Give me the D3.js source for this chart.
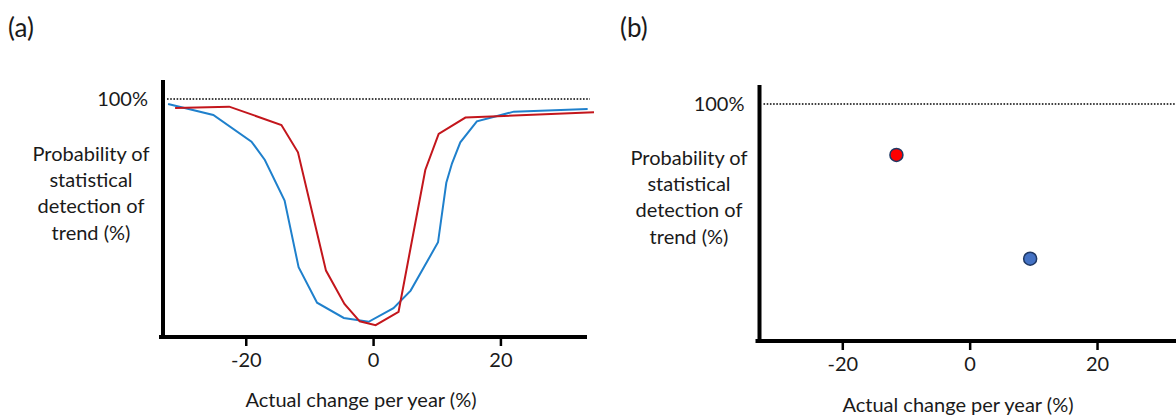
<!DOCTYPE html>
<html lang="en">
<head>
<meta charset="UTF-8">
<title>Probability of statistical detection of trend</title>
<script src="https://cdn.jsdelivr.net/npm/d3@7"></script>
<style>
  body { margin: 0; background: #ffffff; }
  svg { display: block; }
  text { font-family: Lato, "Open Sans", sans-serif; fill: #1a1a1a; }
</style>
</head>
<body>
<svg id="chart" width="1176" height="415"></svg>
<script>
// panel (a): detection probability curves
var blueX = [-32.2, -25.1, -19.1, -17.0, -13.9, -11.7, -8.8, -4.6, -0.7, 3.2, 5.9, 10.2, 11.5, 12.4, 13.7, 16.3, 22.1, 33.7];
var blueY = [97.9, 93.3, 82.1, 74.4, 57.3, 29.3, 14.4, 8.0, 6.4, 12.1, 19.5, 39.8, 64.8, 73.0, 81.8, 90.6, 94.7, 95.8];
var redX = [-31.1, -22.6, -14.4, -11.8, -7.4, -4.5, -2.1, 0.4, 4.0, 8.2, 10.3, 14.5, 34.7];
var redY = [96.2, 96.8, 89.1, 77.6, 27.9, 13.9, 6.6, 5.0, 10.6, 70.2, 85.3, 92.2, 94.4];

// panel (b): single points
var pointX = [-11.5, 9.5];
var pointY = [78.5, 34.7];
var pointFill = ["#ff0000", "#4472c4"];

var xTicks = [-20, 0, 20];
var topLabel = "100%";
var yTitle = ["Probability of", "statistical", "detection of", "trend (%)"];
var xTitle = "Actual change per year (%)";

var svg = d3.select("#chart");
var fs = 20;

function panel(opt) {
  var g = svg.append("g");
  var x = d3.scaleLinear().domain(opt.xDomain).range(opt.xRange);
  var y = d3.scaleLinear().domain([0, 108]).range(opt.yRange);

  // dotted 100% line
  g.append("line")
    .attr("x1", x.range()[0] + 4).attr("x2", opt.dotEnd)
    .attr("y1", y(100)).attr("y2", y(100))
    .attr("stroke", "#000").attr("stroke-width", 1.6)
    .attr("stroke-dasharray", "1.6 1.6");

  g.append("text")
    .attr("x", x.range()[0] - 15).attr("y", y(100) + 7)
    .attr("text-anchor", "end").attr("font-size", fs)
    .text(topLabel);

  g.append("text")
    .attr("text-anchor", "middle").attr("font-size", fs)
    .selectAll("tspan").data(yTitle).join("tspan")
    .attr("x", opt.titleX)
    .attr("y", function(d, i) { return opt.titleY + i * 26.2; })
    .text(function(d) { return d; });

  var xAxis = g.append("g")
    .attr("transform", "translate(0," + y(0) + ")")
    .call(d3.axisBottom(x).tickValues(xTicks).tickSize(9).tickSizeOuter(0).tickPadding(7)
      .tickFormat(function(d) { return String(d); }));
  xAxis.select(".domain").attr("stroke", "#000").attr("stroke-width", 4)
    .attr("d", "M" + (x.range()[0] - 4) + ",0H" + x.range()[1]);
  xAxis.selectAll(".tick line").attr("stroke-width", 2.5);
  xAxis.selectAll(".tick text").attr("font-size", fs).attr("font-family", "Lato, sans-serif").attr("fill", "#1a1a1a");

  var yAxis = g.append("g")
    .attr("transform", "translate(" + x.range()[0] + ",0)")
    .call(d3.axisLeft(y).tickValues([]).tickSizeOuter(0));
  yAxis.select(".domain").attr("stroke", "#000").attr("stroke-width", 4)
    .attr("d", "M0," + (y(0) + 2) + "V" + y.range()[1]);

  g.append("text")
    .attr("x", opt.xTitleX).attr("y", opt.xTitleY)
    .attr("text-anchor", "middle").attr("font-size", fs)
    .text(xTitle);

  g.append("text")
    .attr("x", opt.tagX).attr("y", 37)
    .attr("font-size", 26)
    .text(opt.tag);

  return {g: g, x: x, y: y};
}

var a = panel({
  xDomain: [-33, 33.6], xRange: [163, 587], yRange: [337, 80],
  dotEnd: 590, titleX: 91, titleY: 161, xTitleX: 361, xTitleY: 407,
  tagX: 8, tag: "(a)"
});

var line = d3.line()
  .x(function(d) { return a.x(d[0]); })
  .y(function(d) { return a.y(d[1]); });

a.g.append("path")
  .datum(d3.zip(blueX, blueY))
  .attr("d", line)
  .attr("fill", "none").attr("stroke", "#1f80cc").attr("stroke-width", 2);

a.g.append("path")
  .datum(d3.zip(redX, redY))
  .attr("d", line)
  .attr("fill", "none").attr("stroke", "#c3161c").attr("stroke-width", 2);

var b = panel({
  xDomain: [-33, 32.4], xRange: [759.5, 1176], yRange: [341, 85],
  dotEnd: 1176, titleX: 689, titleY: 165, xTitleX: 958, xTitleY: 412,
  tagX: 620, tag: "(b)"
});

b.g.selectAll("circle")
  .data(d3.zip(pointX, pointY, pointFill))
  .join("circle")
  .attr("cx", function(d) { return b.x(d[0]); })
  .attr("cy", function(d) { return b.y(d[1]); })
  .attr("r", 6.5)
  .attr("fill", function(d) { return d[2]; })
  .attr("stroke", "#1f3864").attr("stroke-width", 1.5);
</script>
</body>
</html>
